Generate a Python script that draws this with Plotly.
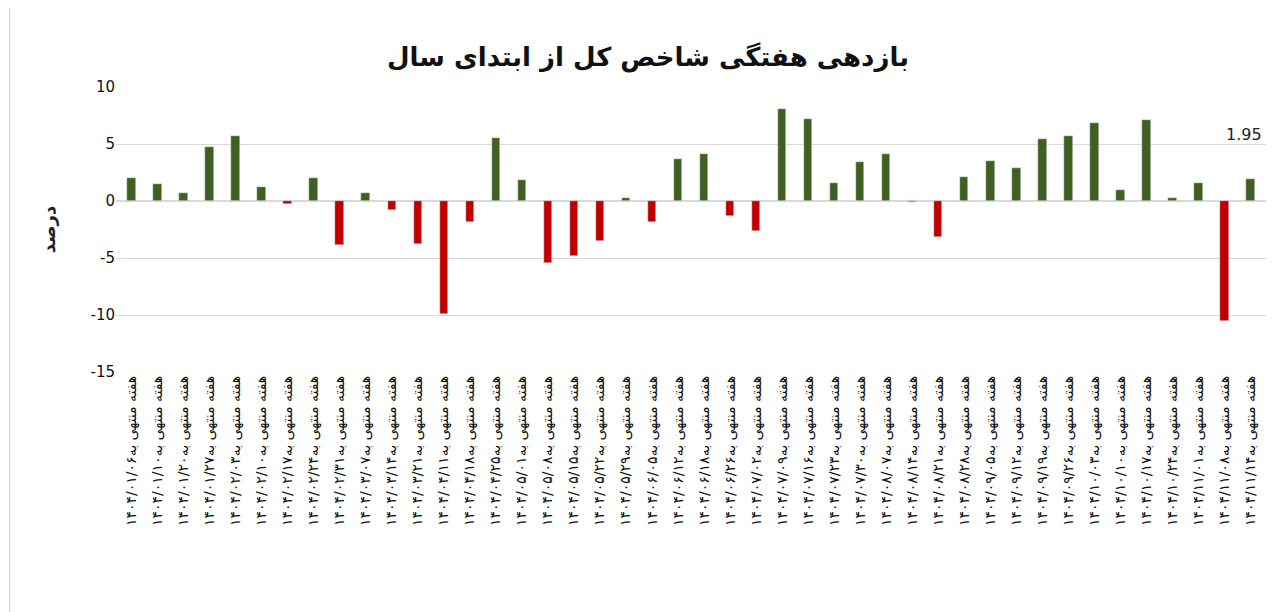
import plotly.graph_objects as go

dates = ["۰۱/۰۶","۰۱/۱۰","۰۱/۲۰","۰۱/۲۷","۰۲/۰۳","۰۲/۱۰","۰۲/۱۷","۰۲/۲۴","۰۲/۳۱",
         "۰۳/۰۷","۰۳/۱۴","۰۳/۲۱","۰۴/۱۱","۰۴/۱۸","۰۴/۲۵","۰۵/۰۱","۰۵/۰۸","۰۵/۱۵",
         "۰۵/۲۲","۰۵/۲۹","۰۶/۰۵","۰۶/۱۲","۰۶/۱۸","۰۶/۲۶","۰۷/۰۲","۰۷/۰۹","۰۷/۱۶",
         "۰۷/۲۳","۰۷/۳۰","۰۸/۰۷","۰۸/۱۴","۰۸/۲۱","۰۸/۲۸","۰۹/۰۵","۰۹/۱۲","۰۹/۱۹",
         "۰۹/۲۶","۱۰/۰۳","۱۰/۱۰","۱۰/۱۷","۱۰/۲۴","۱۱/۰۱","۱۱/۰۸","۱۱/۱۴"]
categories = ["هفته منتهی به" + "۱۴۰۴/" + d for d in dates]
values = [2.0,1.5,0.7,4.7,5.7,1.2,-0.3,2.0,-3.9,0.7,-0.8,-3.8,-9.9,-1.8,5.5,1.8,-5.4,-4.8,
          -3.5,0.3,-1.8,3.7,4.1,-1.3,-2.6,8.1,7.2,1.6,3.4,4.1,-0.1,-3.2,2.1,3.5,2.9,5.4,
          5.7,6.8,1.0,7.1,0.3,1.6,-10.5,1.95]
ytick_vals = [10,5,0,-5,-10,-15]
ytick_text = ["10","5","0","-5","-10","-15"]

colors = ["#3f5f23" if v >= 0 else "#c00000" for v in values]
xs = list(range(len(values)))

fig = go.Figure(go.Bar(x=xs, y=values, marker_color=colors, width=0.33))
fig.add_annotation(x=xs[-1], y=values[-1], text="1.95", showarrow=False, yshift=44,
                   xshift=-6, font=dict(size=16, color="#222", family="DejaVu Sans"))
fig.update_layout(
    width=1280, height=612, paper_bgcolor="white", plot_bgcolor="white",
    margin=dict(l=108, r=22, t=79, b=248),
    title=dict(text="<b>بازدهی هفتگی شاخص کل از ابتدای سال</b>", x=0.5, y=0.935, xanchor="center",
               font=dict(size=26, color="#111", family="DejaVu Sans")),
    showlegend=False, bargap=0,
    font=dict(family="DejaVu Sans", color="#222"),
)
fig.update_xaxes(tickvals=xs, ticktext=categories, tickangle=-90,
                 tickfont=dict(size=14, color="#111"), showgrid=False, zeroline=False,
                 range=[-0.6, len(values) - 0.4])
fig.update_yaxes(range=[-15, 10], tickvals=ytick_vals, ticktext=ytick_text,
                 showgrid=True, gridcolor="#d9d9d9", zeroline=True, zerolinecolor="#d9d9d9",
                 tickfont=dict(size=15, color="#111"),
                 title=dict(text="<b>درصد</b>", font=dict(size=18), standoff=30))
fig.add_shape(type="rect", xref="paper", yref="paper", x0=-0.0925, x1=1.0185, y0=-0.865, y1=1.285,
              line=dict(color="#d0d0d0", width=1))
fig.write_html("out.html")
